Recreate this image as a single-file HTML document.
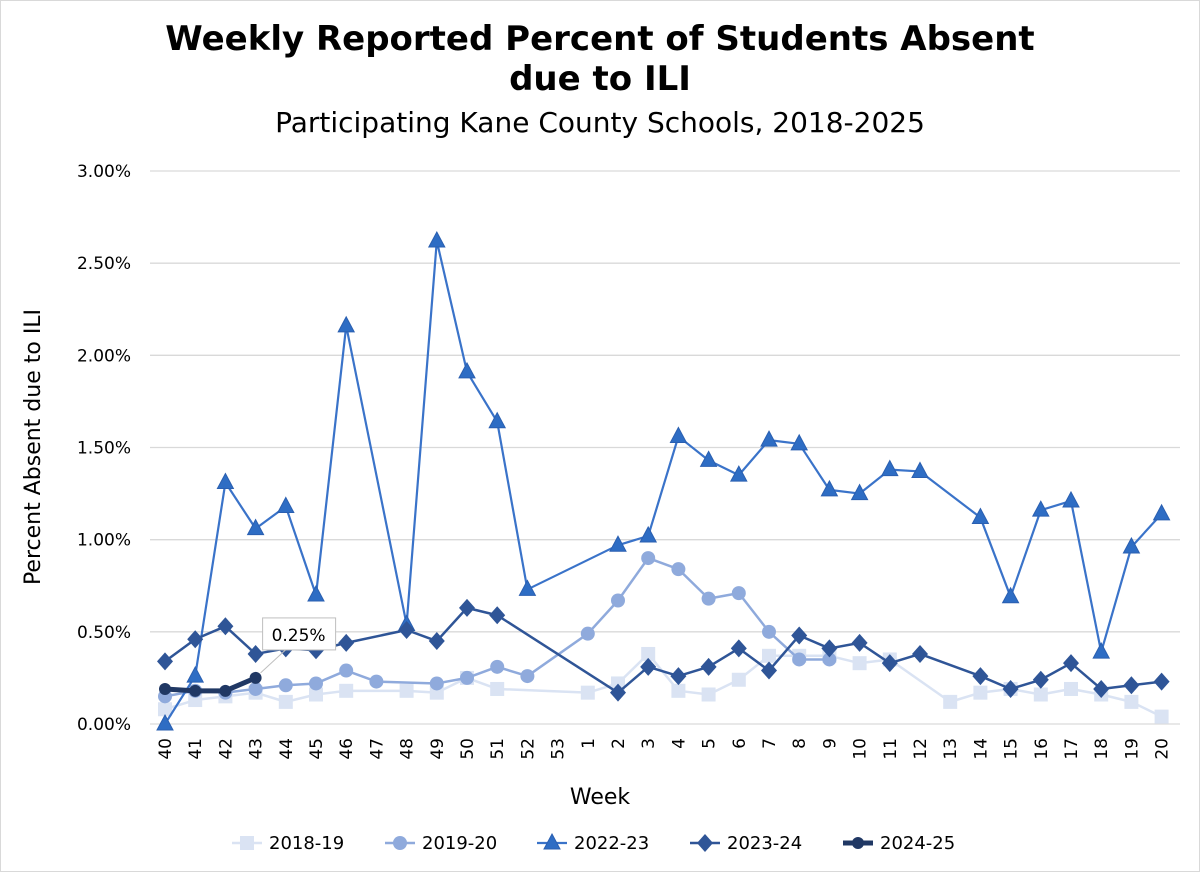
<!DOCTYPE html>
<html><head><meta charset="utf-8"><style>
body{margin:0;background:#fff}
svg{display:block;font-family:"DejaVu Sans","Liberation Sans",sans-serif}
</style></head><body>
<svg id="chart" width="1200" height="872">
<rect x="0.5" y="0.5" width="1199" height="871" fill="#fff" stroke="#d9d9d9"/>
<text x="600" y="50" text-anchor="middle" font-size="34" font-weight="bold">Weekly Reported Percent of Students Absent</text>
<text x="600" y="90" text-anchor="middle" font-size="34" font-weight="bold">due to ILI</text>
<text x="600" y="132" text-anchor="middle" font-size="28">Participating Kane County Schools, 2018-2025</text>
<g id="grid"></g><g id="axes"></g><g id="series"></g><g id="legend"></g>
<text x="600" y="804" text-anchor="middle" font-size="22">Week</text>
<text transform="translate(40,447) rotate(-90)" text-anchor="middle" font-size="22">Percent Absent due to ILI</text>
</svg>
<script>
const weeks=["40","41","42","43","44","45","46","47","48","49","50","51","52","53","1","2","3","4","5","6","7","8","9","10","11","12","13","14","15","16","17","18","19","20"];
const yTicks=[0,0.5,1,1.5,2,2.5,3];
const seriesNames=["2018-19","2019-20","2022-23","2023-24","2024-25"];
const s1819=[0.08,0.13,0.15,0.17,0.12,0.16,0.18,null,0.18,0.17,0.25,0.19,null,null,0.17,0.22,0.38,0.18,0.16,0.24,0.37,0.37,0.37,0.33,0.35,null,0.12,0.17,0.19,0.16,0.19,0.16,0.12,0.04];
const s1920=[0.15,0.18,0.17,0.19,0.21,0.22,0.29,0.23,null,0.22,0.25,0.31,0.26,null,0.49,0.67,0.90,0.84,0.68,0.71,0.50,0.35,0.35,null,null,null,null,null,null,null,null,null,null,null];
const s2223=[0.0,0.26,1.31,1.06,1.18,0.70,2.16,null,0.54,2.62,1.91,1.64,0.73,null,null,0.97,1.02,1.56,1.43,1.35,1.54,1.52,1.27,1.25,1.38,1.37,null,1.12,0.69,1.16,1.21,0.39,0.96,1.14];
const s2324=[0.34,0.46,0.53,0.38,0.41,0.40,0.44,null,0.51,0.45,0.63,0.59,null,null,null,0.17,0.31,0.26,0.31,0.41,0.29,0.48,0.41,0.44,0.33,0.38,null,0.26,0.19,0.24,0.33,0.19,0.21,0.23];
const s2425=[0.19,0.18,0.18,0.25];
const NS="http://www.w3.org/2000/svg";
const X0=165,STEP=30.2,Y0=724,Y3=171;
const xs=i=>X0+i*STEP;
const ys=v=>Y0-(v/3)*(Y0-Y3);
function mk(tag,attrs,parent){const e=document.createElementNS(NS,tag);for(const k in attrs)e.setAttribute(k,attrs[k]);parent.appendChild(e);return e;}
const grid=document.getElementById('grid'),axes=document.getElementById('axes'),ser=document.getElementById('series'),leg=document.getElementById('legend');
yTicks.forEach(t=>{
  const l=mk('line',{x1:150,x2:1180,y1:ys(t),y2:ys(t),stroke:'#d9d9d9','stroke-width':1.3},grid);
  
  
  const tx=mk('text',{x:131,y:ys(t)+6,'text-anchor':'end','font-size':17},axes);
  tx.textContent=t.toFixed(2)+'%';
  
  
});
weeks.forEach((w,i)=>{
  const tx=mk('text',{transform:`translate(${xs(i)+6},${738}) rotate(-90)`,'text-anchor':'end','font-size':17},axes);
  tx.textContent=w;
  
  
});
const styles=[
 {data:s1819,color:'#dae3f3',marker:'square',w:2.5},
 {data:s1920,color:'#8faadc',marker:'circle',w:2.5},
 {data:s2223,color:'#3a73c9',marker:'triangle',w:2.2},
 {data:s2324,color:'#2f5597',marker:'diamond',w:2.5},
 {data:s2425,color:'#203864',marker:'circle',w:5}
];
function marker(type,x,y,c,p,size){
  let e;
  if(type==='square')e=mk('rect',{x:x-7,y:y-7,width:14,height:14,fill:c},p);
  else if(type==='circle')e=mk('circle',{cx:x,cy:y,r:size||7,fill:c},p);
  else if(type==='triangle')e=mk('polygon',{points:`${x},${y-9} ${x+8},${y+6} ${x-8},${y+6}`,fill:'#2e6dc4',stroke:'#2a5fb0','stroke-width':1},p);
  else e=mk('polygon',{points:`${x},${y-9} ${x+8},${y} ${x},${y+9} ${x-8},${y}`,fill:c},p);
  return e;
}
styles.forEach((s,si)=>{
  const g=mk('g',{},ser);
  
  
  const pts=[];s.data.forEach((v,i)=>{if(v!==null)pts.push([xs(i),ys(v)]);});
  const pl=mk('polyline',{points:pts.map(p=>p.join(',')).join(' '),fill:'none',stroke:s.color,'stroke-width':s.w,'stroke-linejoin':'round'},g);
  
  
  pts.forEach(p=>{
    const m=marker(s.marker,p[0],p[1],s.color,g,si===4?6:7);
    
    
  });
});
const li=s2425.length-1,lx=xs(li),ly=ys(s2425[li]);
const lb=mk('g',{},ser);


mk('path',{d:`M${lx+5},${ly-5} L${lx+30},${ly-28} L${lx+26},${ly-28}`,stroke:'#bfbfbf',fill:'none'},lb);
mk('rect',{x:lx+7,y:ly-60,width:73,height:32,fill:'#fff',stroke:'#bfbfbf'},lb);
const lt=mk('text',{x:lx+43,y:ly-37,'text-anchor':'middle','font-size':17},lb);
lt.textContent=(s2425[li]).toFixed(2)+'%';
const legX=[232,385,537,690,843];
styles.forEach((s,si)=>{
  const g=mk('g',{},leg);
  
  
  mk('line',{x1:legX[si],x2:legX[si]+30,y1:843,y2:843,stroke:s.color,'stroke-width':s.w},g);
  marker(s.marker,legX[si]+15,843,s.color,g,si===4?6:7);
  const t=mk('text',{x:legX[si]+37,y:849,'font-size':18},g);
  t.textContent=seriesNames[si];
});
</script>
</body></html>
